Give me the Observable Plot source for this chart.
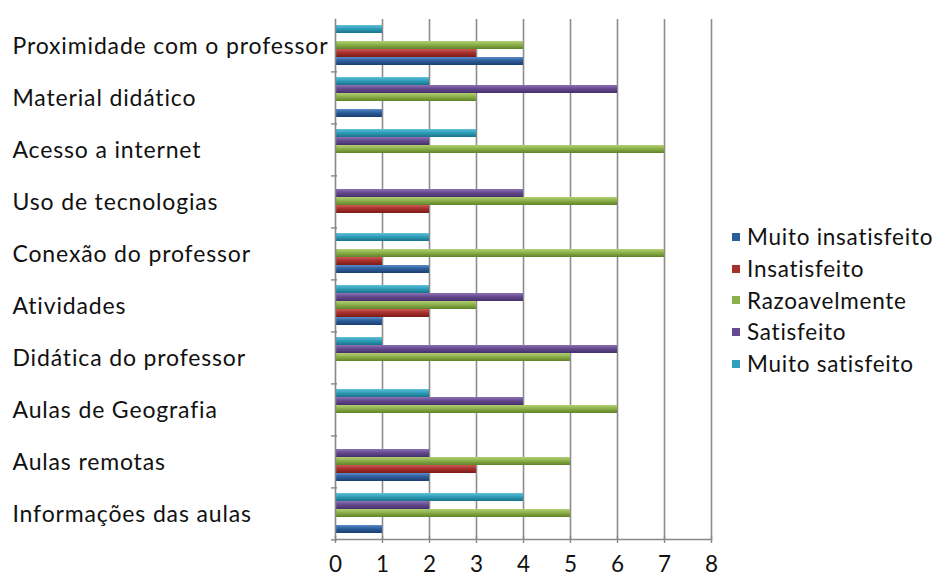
<!DOCTYPE html>
<html>
<head>
<meta charset="utf-8">
<script src="https://cdn.jsdelivr.net/npm/d3@7"></script>
<script src="https://cdn.jsdelivr.net/npm/@observablehq/plot@0.6"></script>
<style>
  html, body { margin: 0; padding: 0; background: #fff; }
  #wrap { position: relative; width: 936px; height: 577px; font-family: Lato, "Open Sans", sans-serif; }
  #legend { position: absolute; left: 732px; top: 221px; font-size: 22.5px; color: #111; letter-spacing: 0.75px; }
  #legend .row { height: 31.8px; line-height: 31.8px; white-space: nowrap; display: flex; align-items: center; }
  #legend .sw { width: 8px; height: 8px; margin-right: 7px; flex: none; }
  g[aria-label="fy-axis tick label"] text { letter-spacing: 0.85px; }
</style>
</head>
<body>
<div id="wrap"><div id="legend"></div></div>
<script>
const categories = ["Proximidade com o professor", "Material didático", "Acesso a internet", "Uso de tecnologias", "Conexão do professor", "Atividades", "Didática do professor", "Aulas de Geografia", "Aulas remotas", "Informações das aulas"];
const series = ["Muito insatisfeito", "Insatisfeito", "Razoavelmente", "Satisfeito", "Muito satisfeito"];
const muitoInsatisfeito = [4, 1, 0, 0, 2, 1, 0, 0, 2, 1];
const insatisfeito      = [3, 0, 0, 2, 1, 2, 0, 0, 3, 0];
const razoavelmente     = [4, 3, 7, 6, 7, 3, 5, 6, 5, 5];
const satisfeito        = [0, 6, 2, 4, 0, 4, 6, 4, 2, 2];
const muitoSatisfeito   = [1, 2, 3, 0, 2, 2, 1, 2, 0, 4];
const xTicks = [0, 1, 2, 3, 4, 5, 6, 7, 8];

const seriesValues = [muitoInsatisfeito, insatisfeito, razoavelmente, satisfeito, muitoSatisfeito];
const colors = ["#2d5d9b", "#a8302c", "#8cb04a", "#654a8f", "#2f9fba"];
const tops   = ["#5a8ccb", "#cc5a56", "#b2d073", "#8d72b5", "#62c0d8"];
const bottoms= ["#1c3f70", "#7a1b18", "#5f8228", "#45306a", "#1a7189"];

const rows = [];
categories.forEach((c, i) => {
  series.forEach((s, j) => rows.push({category: c, series: s, value: seriesValues[j][i]}));
});

const fontFam = "Lato, 'Open Sans', sans-serif";

function build(useSuper) {
  const bottomLine = useSuper
    ? Plot.frame({anchor: "bottom", stroke: "#888", strokeWidth: 1.6, facet: "super"})
    : Plot.frame({anchor: "bottom", stroke: "#888", strokeWidth: 1.6, fy: [categories[categories.length - 1]]});
  return Plot.plot({
    width: 936,
    height: 577,
    marginLeft: 335,
    marginRight: 225,
    marginTop: 15,
    marginBottom: 34,
    style: {fontFamily: fontFam, color: "#111", background: "transparent", overflow: "visible"},
    x: {domain: [0, 8], axis: null},
    y: {domain: series.slice().reverse(), axis: null, paddingInner: 0.04, paddingOuter: 0.6},
    fy: {domain: categories, paddingInner: 0, paddingOuter: 0, axis: null},
    color: {domain: series, range: series.map((s, j) => `url(#grad${j})`)},
    marks: [
      Plot.gridX({ticks: xTicks.slice(1), stroke: "#8c8c8c", strokeOpacity: 1, strokeWidth: 1.6}),
      Plot.barX(rows, {fy: "category", y: "series", x: "value", fill: "series"}),
      Plot.frame({anchor: "left", stroke: "#888", strokeWidth: 1.6}),
      bottomLine,
      Plot.axisFy({anchor: "left", label: null, tickSize: 0, tickPadding: 0, textAnchor: "start", dx: -323, dy: 1, fontSize: 23, fill: "#111"}),
      Plot.axisFy({anchor: "left", label: null, text: null, tickSize: 6, dx: 2, dy: 26.4, stroke: "#888", strokeWidth: 1.4}),
      Plot.axisX({ticks: xTicks, anchor: "bottom", label: null, tickSize: 7, dy: -3, tickPadding: 13, fontSize: 22.5, stroke: "#888", strokeWidth: 1.4, fill: "#111"})
    ]
  });
}

let chart;
try { chart = build(true); } catch (e) { chart = build(false); }

// gradients for the bar fills
const ns = "http://www.w3.org/2000/svg";
const defs = document.createElementNS(ns, "defs");
series.forEach((s, j) => {
  const g = document.createElementNS(ns, "linearGradient");
  g.setAttribute("id", `grad${j}`);
  g.setAttribute("x1", "0"); g.setAttribute("y1", "0");
  g.setAttribute("x2", "0"); g.setAttribute("y2", "1");
  [[0, tops[j]], [0.45, colors[j]], [1, bottoms[j]]].forEach(([o, c]) => {
    const st = document.createElementNS(ns, "stop");
    st.setAttribute("offset", o);
    st.setAttribute("stop-color", c);
    g.appendChild(st);
  });
  defs.appendChild(g);
});
chart.insertBefore(defs, chart.firstChild);

const wrap = document.getElementById("wrap");
wrap.insertBefore(chart, wrap.firstChild);

const legend = document.getElementById("legend");
series.forEach((s, j) => {
  const row = document.createElement("div");
  row.className = "row";
  const sw = document.createElement("span");
  sw.className = "sw";
  sw.style.background = colors[j];
  const t = document.createElement("span");
  t.textContent = s;
  row.appendChild(sw);
  row.appendChild(t);
  legend.appendChild(row);
});
</script>
</body>
</html>
